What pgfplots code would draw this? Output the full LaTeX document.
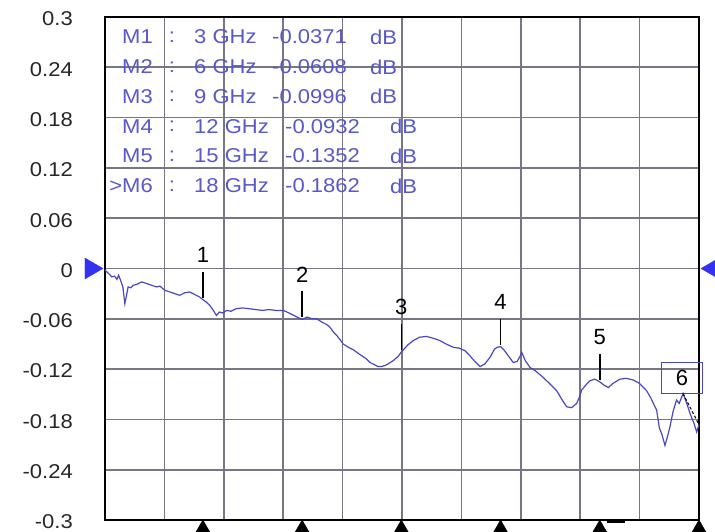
\documentclass[border=0pt]{standalone}
\usepackage{fontspec}
\setmainfont{Liberation Sans}[FakeStretch=1.1]
\newfontfamily\digitfont{Liberation Sans}
\usepackage{pgfplots}
\pgfplotsset{compat=1.18}

\definecolor{trace}{RGB}{72,72,192}
\definecolor{mtext}{RGB}{88,88,200}
\definecolor{gridc}{RGB}{118,118,132}
\definecolor{refblue}{RGB}{50,50,240}

% marker stem drawn above the trace point
\pgfdeclareplotmark{mkline}{%
  \pgfpathmoveto{\pgfqpoint{0pt}{2pt}}%
  \pgfpathlineto{\pgfqpoint{0pt}{28pt}}%
  \pgfusepathqstroke}

\begin{document}
\begin{tikzpicture}[tbl/.style={text=mtext, font=\fontsize{20}{24}\selectfont, inner sep=0pt}]
\begin{axis}[
    at={(0pt,0pt)}, anchor=south west,
    scale only axis, width=594pt, height=503pt,
    xmin=0.04, xmax=18, ymin=-0.3, ymax=0.3,
    xtick={0.04,1.836,3.632,5.428,7.224,9.02,10.816,12.612,14.408,16.204,18},
    xticklabels={},
    ytick={-0.3,-0.24,-0.18,-0.12,-0.06,0,0.06,0.12,0.18,0.24,0.3},
    yticklabels={-0.3,-0.24,-0.18,-0.12,-0.06,0,0.06,0.12,0.18,0.24,0.3},
    major tick length=0pt,
    grid=major,
    major grid style={gridc, line width=1.7pt},
    axis line style={black, line width=1.8pt},
    yticklabel style={font=\fontsize{20}{24}\selectfont, text=black!85,
        anchor=east, inner sep=0pt, xshift=-32pt, yshift=-2pt},
    clip=false,
]

% S21 trace
\addplot[trace, line width=1.2pt, mark=none] coordinates {
(0.04,-0.002) (0.15,-0.006) (0.25,-0.010) (0.33,-0.009) (0.40,-0.013)
(0.45,-0.008) (0.52,-0.015) (0.58,-0.022) (0.64,-0.042) (0.70,-0.030)
(0.74,-0.022) (0.82,-0.023) (0.89,-0.020) (1.00,-0.019) (1.15,-0.016)
(1.30,-0.018) (1.45,-0.020) (1.60,-0.022) (1.70,-0.021) (1.85,-0.026)
(2.00,-0.028) (2.15,-0.030) (2.30,-0.032) (2.45,-0.029) (2.60,-0.028)
(2.75,-0.031) (2.90,-0.034) (3.00,-0.0371) (3.10,-0.040) (3.21,-0.044)
(3.30,-0.049) (3.41,-0.056) (3.50,-0.052) (3.60,-0.053) (3.72,-0.050)
(3.85,-0.051) (4.00,-0.048) (4.20,-0.047) (4.40,-0.048) (4.60,-0.049)
(4.80,-0.050) (5.00,-0.049) (5.20,-0.050) (5.43,-0.050) (5.60,-0.053)
(5.80,-0.057) (6.00,-0.0608) (6.15,-0.058) (6.30,-0.060) (6.44,-0.060)
(6.60,-0.064) (6.75,-0.067) (6.84,-0.070) (6.95,-0.076) (7.05,-0.080)
(7.15,-0.085) (7.24,-0.090) (7.40,-0.094) (7.55,-0.097) (7.65,-0.100)
(7.80,-0.104) (7.95,-0.108) (8.05,-0.112) (8.20,-0.115) (8.30,-0.117)
(8.40,-0.117) (8.55,-0.115) (8.75,-0.110) (8.90,-0.105) (9.00,-0.0996)
(9.20,-0.091) (9.36,-0.086) (9.55,-0.082) (9.76,-0.081) (9.95,-0.083)
(10.17,-0.086) (10.35,-0.090) (10.57,-0.094) (10.75,-0.095) (10.92,-0.098)
(11.05,-0.103) (11.20,-0.110) (11.38,-0.117) (11.52,-0.114) (11.68,-0.106)
(11.82,-0.096) (11.90,-0.094) (12.00,-0.0932) (12.10,-0.097) (12.25,-0.105)
(12.38,-0.112) (12.50,-0.111) (12.60,-0.104) (12.64,-0.100) (12.75,-0.110)
(12.89,-0.118) (13.05,-0.122) (13.29,-0.130) (13.50,-0.138) (13.70,-0.146)
(13.85,-0.156) (14.00,-0.165) (14.15,-0.166) (14.30,-0.161) (14.40,-0.152)
(14.45,-0.145) (14.60,-0.138) (14.70,-0.134) (14.85,-0.132) (15.00,-0.1352)
(15.12,-0.139) (15.26,-0.142) (15.40,-0.137) (15.61,-0.132) (15.80,-0.131)
(16.01,-0.133) (16.20,-0.137) (16.42,-0.146) (16.55,-0.155) (16.72,-0.169)
(16.80,-0.190) (16.88,-0.198) (16.97,-0.211) (17.05,-0.200) (17.12,-0.189)
(17.22,-0.170) (17.32,-0.157) (17.40,-0.161) (17.52,-0.149) (17.62,-0.160)
(17.73,-0.173) (17.85,-0.185) (17.93,-0.195) (18.00,-0.1862)
};

% markers 1-5
\addplot[only marks, mark=mkline, black, line width=1.6pt,
    point meta=explicit symbolic, nodes near coords,
    every node near coord/.append style={anchor=center, yshift=45pt,
        font=\digitfont\fontsize{22}{24}\selectfont, text=black}]
    coordinates {(3,-0.0371)[1] (6,-0.0608)[2] (9,-0.0996)[3] (12,-0.0932)[4] (15,-0.1352)[5]};

% marker 6 (active)
\node[draw=trace, line width=1.3pt, minimum width=41pt, minimum height=31pt,
    inner sep=0pt, font=\digitfont\fontsize{22}{24}\selectfont]
    at (axis cs:17.485,-0.1306) {6};
\draw[black, line width=1pt, densely dashed] (axis cs:17.515,-0.1491) -- (axis cs:18,-0.1862);

% marker triangles under the frame
\addplot[only marks, mark=triangle*, mark size=8pt, black,
    mark options={yshift=-8pt, fill=black, line width=0.4pt}]
    coordinates {(3,-0.3) (6,-0.3) (9,-0.3) (12,-0.3) (15,-0.3) (18,-0.3)};

% reference level arrows
\addplot[only marks, mark=triangle*, mark size=12pt, refblue,
    mark options={xshift=-14pt, rotate=-90, fill=refblue, line width=0.4pt}]
    coordinates {(0.04,0)};
\addplot[only marks, mark=triangle*, mark size=12pt, refblue,
    mark options={xshift=14pt, rotate=90, fill=refblue, line width=0.4pt}]
    coordinates {(18,0)};
\end{axis}

% marker readout
\foreach \y/\n/\f/\v/\xv/\xd in {
    483/M1/3/-0.0371/167/265,
    453/M2/6/-0.0608/167/265,
    423.5/M3/9/-0.0996/167/265,
    393.5/M4/12/-0.0932/180/285,
    364/M5/15/-0.1352/180/285,
    334/>M6/18/-0.1862/180/285} {
  \node[tbl, anchor=east] at (48pt,\y pt) {\n};
  \node[tbl] at (67pt,\y pt) {:};
  \node[tbl, anchor=west] at (89pt,\y pt) {\f\ GHz};
  \node[tbl, anchor=west] at (\xv pt,\y pt) {\v};
  \node[tbl, anchor=west] at (\xd pt,\y pt) {dB};
}
\draw[black, line width=1.2pt] (502pt,-2pt) -- (520pt,-2pt);

\pgfresetboundingbox
\path[use as bounding box] (-105pt,-12pt) rectangle (610pt,520pt);
\end{tikzpicture}
\end{document}
